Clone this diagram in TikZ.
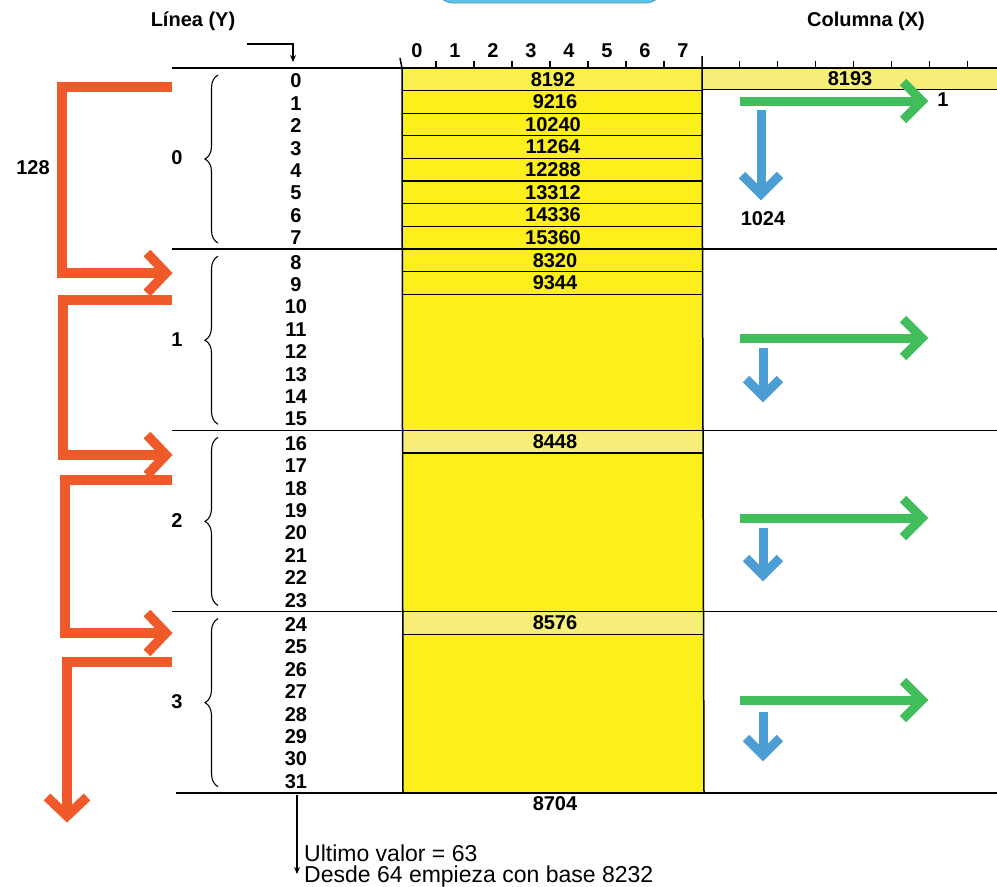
\documentclass[tikz,border=0pt]{standalone}
\usepackage{fontspec}
\setmainfont{Liberation Sans}
\usetikzlibrary{decorations.pathreplacing,arrows.meta}
\definecolor{ora}{HTML}{F05A2A}
\definecolor{grn}{HTML}{42BD5B}
\definecolor{blu}{HTML}{4B9DD4}
\definecolor{yel}{HTML}{FCEF1C}
\definecolor{myel}{HTML}{F9F04E}
\definecolor{pyel}{HTML}{F6EE78}
\definecolor{cap}{HTML}{5CC2E6}
\begin{document}
\begin{tikzpicture}[x=1pt,y=-1pt,
  num/.style={font=\fontsize{20}{20}\selectfont\bfseries, inner sep=0pt},
  txt/.style={font=\fontsize{23}{21}\selectfont, inner sep=0pt, anchor=north west, align=left},
  rule/.style={line width=1.5pt, black},
  thin/.style={line width=1.1pt, black},
  orpath/.style={line width=9.5pt, ora, line join=miter, line cap=butt},
  grpath/.style={line width=9pt, grn, line join=miter, line cap=butt},
  blpath/.style={line width=9pt, blu, line join=miter, line cap=butt},
  bracepath/.style={line width=1.1pt, decorate, decoration={brace, amplitude=13pt}}]
\useasboundingbox (0,0) rectangle (997,887);
\clip (0,0) rectangle (997,887);
\fill[white] (0,0) rectangle (997,887);

% top cap shape
\filldraw[fill=cap, draw=cap!80!black, line width=0.8pt, rounded corners=16pt] (437,-40) rectangle (662,3);

% yellow block
\fill[yel] (402,68) rectangle (703,793);
\fill[myel] (402,68) rectangle (703,89.5);
\fill[pyel] (703,68) rectangle (997,89.5);
\fill[pyel] (402,430.4) rectangle (703,453);
\fill[pyel] (402,611.6) rectangle (703,634.2);

% row separators inside block
\foreach \k in {1,...,7} { \draw[thin] (402,{68+22.6*\k}) -- (703,{68+22.6*\k}); }
\draw[thin] (703,89.5) -- (997,89.5);
\draw[thin] (402,271.6) -- (703,271.6);
\draw[thin] (402,294.2) -- (703,294.2);
\draw[thin] (402,453) -- (703,453);
\draw[thin] (402,634.2) -- (703,634.2);

% group lines
\draw[rule] (172,68) -- (997,68);
\draw[rule] (172,249.2) -- (997,249.2);
\draw[rule] (172,430.4) -- (997,430.4);
\draw[rule] (172,611.6) -- (997,611.6);
\draw[rule] (176,792.8) -- (997,792.8);

% block edges
\draw[rule] (400,58) -- (402,68) -- (403,793);
\draw[rule] (702,56) -- (702,68) -- (704,793);

% ticks
\foreach \i in {1,...,7} { \draw[thin] ({398+38*\i},61) -- ({398+38*\i},68); }
\foreach \i in {1,...,8} { \draw[thin] ({702+37.9*\i},61) -- ({702+37.9*\i},68); }
\foreach \i in {0,...,7} { \node[num] (c\i) at ({417+38*\i},51) {\i}; }

% headings
\node[num] (lin) at (193,21) {Línea (Y)};
\node[num] (col) at (866,21) {Columna (X)};

% small arrow at top
\coordinate (ta) at (247,44);
\coordinate (tb) at (293,44);
\coordinate (tc) at (293,62);
\draw[thin, -{Stealth[length=7pt,width=6pt]}] (ta) -- (tb) -- (tc);

% row labels
\foreach \g in {0,...,3} {
  \foreach \k in {0,...,7} {
    \pgfmathtruncatemacro\n{\g*8+\k}
    \node[num] (r\n) at (296,{81+\g*181.2+\k*22.4}) {\n};
  }
  \node[num] (g\g) at (177,{158+\g*181.2}) {\g};
  \draw[bracepath] (218,{243+\g*181.2}) -- (218,{75+\g*181.2});
}

% yellow values
\node[num] (v8192) at (553,79.3) {8192};
\node[num] (v9216) at (555,101.9) {9216};
\node[num] (v10240) at (553,124.5) {10240};
\node[num] (v11264) at (553,147.1) {11264};
\node[num] (v12288) at (553,169.7) {12288};
\node[num] (v13312) at (553,192.3) {13312};
\node[num] (v14336) at (553,214.9) {14336};
\node[num] (v15360) at (553,237.5) {15360};
\node[num] (v8320) at (555,260.5) {8320};
\node[num] (v9344) at (555,283) {9344};
\node[num] (v8448) at (555,441.7) {8448};
\node[num] (v8576) at (555,622.9) {8576};
\node[num] (v8704) at (555,804) {8704};
\node[num] (v8193) at (850,78.8) {8193};
\node[num] (n128) at (33,168) {128};
\node[num] (n1) at (943,100) {1};
\node[num] (n1024) at (763,219) {1024};

% orange arrows
\draw[orpath] (172,87) -- (62,87) -- (62,273) -- (166,273);
\draw[orpath] (147,253) -- (166,273) -- (147,293);
\draw[orpath] (172,300) -- (63,300) -- (63,455) -- (166,455);
\draw[orpath] (147,435) -- (166,455) -- (147,475);
\draw[orpath] (172,480) -- (65,480) -- (65,633) -- (166,633);
\draw[orpath] (147,613) -- (166,633) -- (147,653);
\draw[orpath] (172,662) -- (67,662) -- (67,816);
\draw[orpath] (47,797) -- (67,816) -- (87,797);

% green arrows
\foreach \y in {101,338,518,700} {
  \draw[grpath] (740,\y) -- (922,\y);
  \draw[grpath] (903,{\y-19}) -- (922,\y) -- (903,{\y+19});
}

% blue arrows
\draw[blpath] (761,110) -- (761,194);
\draw[blpath] (742,175) -- (761,194) -- (780,175);
\foreach \y/\e in {348/396, 528/575, 712/755} {
  \draw[blpath] (763,\y) -- (763,\e);
  \draw[blpath] (746,{\e-17}) -- (763,\e) -- (780,{\e-17});
}

% bottom note
\coordinate (ba) at (297,795);
\coordinate (bb) at (297,874);
\draw[thin, -{Stealth[length=7pt,width=6pt]}] (ba) -- (bb);
\node[txt] (t1) at (304,845) {Ultimo valor = 63\\Desde 64 empieza con base 8232};
\end{tikzpicture}
\end{document}
